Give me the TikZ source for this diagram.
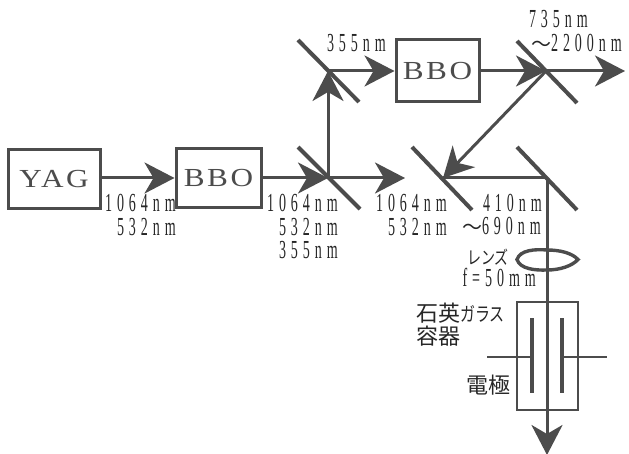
\documentclass[tikz,border=0pt]{standalone}
\usepackage{fontspec}
\usetikzlibrary{arrows.meta}
\newfontfamily\labfont[FakeStretch=0.54,LetterSpace=19]{Liberation Serif}
\newfontfamily\boxfont[FakeStretch=1.2,LetterSpace=10]{Liberation Serif}
\newfontfamily\cjkfont{Noto Sans CJK JP}
\definecolor{ink}{gray}{0.3}
\definecolor{textink}{gray}{0.15}
\tikzset{
  x=1pt,y=-1pt,
  beam/.style={draw=ink,line width=3pt,-{Stealth[length=30pt,width=31pt,inset=9pt]}},
  plain/.style={draw=ink,line width=3pt},
  thinline/.style={draw=ink,line width=2.4pt},
  mirror/.style={draw=ink,line width=4pt},
  crystal/.style={draw=ink,line width=3pt,fill=white,inner sep=0pt,font=\boxfont\fontsize{26}{26}\selectfont,text=ink},
  lab/.style={inner sep=0pt,anchor=base east,font=\labfont\fontsize{26}{26}\selectfont,text=textink},
  jp/.style={inner sep=0pt,anchor=base west,font=\cjkfont,text=textink},
}
\newcommand{\tall}[1]{\scalebox{1}[1.3]{#1}}
\begin{document}
\begin{tikzpicture}
\useasboundingbox (0,0) rectangle (629,454);
% beam hubs
\coordinate (m1) at (328,178);
\coordinate (m2) at (328,71);
\coordinate (m3) at (546,71);
\coordinate (m4) at (443,178);
\coordinate (m5) at (547,178);
\coordinate (out1) at (405,178);
\coordinate (out2) at (625,71);
\coordinate (out3) at (547,455);
\coordinate (leadL) at (487,357);
\coordinate (leadR) at (607,357);
% boxes
\node[crystal,minimum width=92pt,minimum height=59pt] (yag) at (54,179.5) {YAG};
\node[crystal,minimum width=85pt,minimum height=59pt] (bbo1) at (218.5,178.5) {BBO};
\node[crystal,minimum width=83pt,minimum height=62pt] (bbo2) at (437.5,71) {BBO};
% beams
\draw[beam] (yag.east |- 0,178) -- (bbo1.west |- 0,178);
\draw[beam] (bbo1.east |- 0,178) -- (m1);
\draw[beam] (m1) -- (out1);
\draw[beam] (m1) -- (m2);
\draw[beam] (m2) -- (bbo2.west);
\draw[beam] (bbo2.east) -- (m3);
\draw[beam] (m3) -- (out2);
\draw[beam] (m3) -- (m4);
\draw[plain] (m4) -- (m5);
% mirrors
\draw[mirror] (298,147) -- (360,209);
\draw[mirror] (298,40) -- (359,102);
\draw[mirror] (517,41) -- (577,103);
\draw[mirror] (412,147) -- (472,210);
\draw[mirror] (517,147) -- (577,210);
% cell
\node[draw=ink,line width=2.6pt,inner sep=0pt,minimum width=61pt,minimum height=108pt] (cell) at (547.5,356) {};
\node[fill=ink,inner sep=0pt,minimum width=4pt,minimum height=75pt] (elL) at (532,355.5) {};
\node[fill=ink,inner sep=0pt,minimum width=4pt,minimum height=75pt] (elR) at (562,355.5) {};
\draw[thinline] (leadL) -- (elL.west |- leadL);
\draw[thinline] (elR.east |- leadR) -- (leadR);
\draw[beam] (m5) -- (out3);
% lens
\draw[draw=ink,line width=3.4pt] (517,259.5) .. controls (520,250) and (535,249) .. (547,250) .. controls (560,250) and (572,253) .. (578,259.5) .. controls (572,266) and (560,270) .. (547,270) .. controls (535,270.5) and (520,269) .. (517,259.5) -- cycle;
% labels
\node[lab] (a1) at (176,212) {1064nm};
\node[lab] (a2) at (176,236) {532nm};
\node[lab] (b1) at (338,212) {1064nm};
\node[lab] (b2) at (338,236) {532nm};
\node[lab] (b3) at (338,259) {355nm};
\node[lab] (c1) at (447,212) {1064nm};
\node[lab] (c2) at (447,236) {532nm};
\node[lab] (d1) at (542,212) {410nm};
\node[lab] (d2) at (541,235) {{\cjkfont\fontsize{20}{20}\selectfont 〜}690nm};
\node[lab] (e1) at (386,52) {355nm};
\node[lab] (f1) at (588,28) {735nm};
\node[lab] (f2) at (622,52) {{\cjkfont\fontsize{20}{20}\selectfont 〜}2200nm};
\node[lab] (g1) at (536,287) {f=50mm};
\node[jp,font=\cjkfont\fontsize{14}{14}\selectfont] (j1) at (467,265) {\tall{レンズ}};
\node[jp,font=\cjkfont\fontsize{22}{22}\selectfont] (j2) at (416,321) {石英{\fontsize{15}{15}\selectfont\tall{ガラス}}};
\node[jp,font=\cjkfont\fontsize{22}{22}\selectfont] (j3) at (416,344) {容器};
\node[jp,font=\cjkfont\fontsize{22}{22}\selectfont] (j4) at (466,393) {電極};
\end{tikzpicture}
\end{document}
